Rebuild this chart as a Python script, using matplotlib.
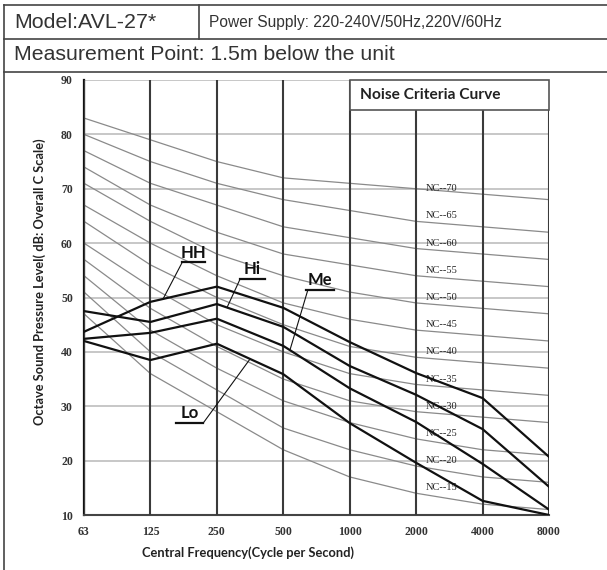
import numpy as np
import matplotlib.pyplot as plt
from matplotlib.lines import Line2D
from matplotlib.patches import Rectangle

# octave band centre frequencies
freqs = ["63", "125", "250", "500", "1000", "2000", "4000", "8000"]
y_ticks = [10, 20, 30, 40, 50, 60, 70, 80, 90]

# noise criteria reference curves
nc15 = [47, 36, 29, 22, 17, 14, 12, 11]
nc20 = [51, 40, 33, 26, 22, 19, 17, 16]
nc25 = [54, 44, 37, 31, 27, 24, 22, 21]
nc30 = [57, 48, 41, 35, 31, 29, 28, 27]
nc35 = [60, 52, 45, 40, 36, 34, 33, 32]
nc40 = [64, 56, 50, 45, 41, 39, 38, 37]
nc45 = [67, 60, 54, 49, 46, 44, 43, 42]
nc50 = [71, 64, 58, 54, 51, 49, 48, 47]
nc55 = [74, 67, 62, 58, 56, 54, 53, 52]
nc60 = [77, 71, 67, 63, 61, 59, 58, 57]
nc65 = [80, 75, 71, 68, 66, 64, 63, 62]
nc70 = [83, 79, 75, 72, 71, 70, 69, 68]
nc_names = [15, 20, 25, 30, 35, 40, 45, 50, 55, 60, 65, 70]

# measured fan speeds
hh = [43.7, 49.2, 52.0, 48.1, 41.8, 36.1, 31.5, 20.7]
hi = [47.5, 45.5, 48.8, 44.6, 37.4, 32.1, 25.8, 15.2]
me = [42.4, 43.5, 46.1, 41.1, 33.3, 27.1, 19.4, 11.0]
lo = [42.0, 38.5, 41.5, 35.9, 26.9, 19.6, 12.6, 10.0]

COND = ["Lato", "DejaVu Sans"]

fig = plt.figure(figsize=(6.07, 5.70), dpi=100)
ax = fig.add_axes([84 / 607, 1 - 515 / 570, 465 / 607, 435 / 570])

xs = np.arange(len(freqs))
ax.set_xlim(0, len(freqs) - 1)
ax.set_ylim(10, 90)

for v in y_ticks:
    ax.axhline(v, color="#bdbdbd", lw=1.2, zorder=1)

nc_curves = [nc15, nc20, nc25, nc30, nc35, nc40, nc45, nc50, nc55, nc60, nc65, nc70]
for name, vals in zip(nc_names, nc_curves):
    ax.plot(xs, vals, color="#8a8a8a", lw=0.9, zorder=2)
    ax.text(5.38, name, f"NC--{name}", fontsize=7.5, family="Liberation Serif",
            ha="center", va="center", color="#222222", zorder=3)

for x in xs:
    ax.axvline(x, color="#3a3a3a", lw=1.5, zorder=4)

for vals in (hh, hi, me, lo):
    ax.plot(xs, vals, color="#111111", lw=1.6, zorder=5)

# curve labels with pointer lines
labels = [
    ("HH", hh, 1.48, 1.82, 56.5, 1.48, 1.19),
    ("Hi", hi, 2.35, 2.72, 53.4, 2.35, 2.153),
    ("Me", me, 3.34, 3.76, 51.4, 3.37, 3.10),
    ("Lo", lo, 1.385, 1.79, 27.0, 1.80, 2.50),
]
for txt, vals, x0, x1, yl, xp, xe in labels:
    ax.text((x0 + x1) / 2, yl + 0.3, txt, fontsize=12, fontweight="bold", family=COND,
            ha="center", va="bottom", color="#111111", zorder=6)
    ax.plot([x0, x1], [yl, yl], color="#111111", lw=1.6, zorder=6)
    ax.plot([xp, xe], [yl, np.interp(xe, xs, vals)], color="#111111", lw=0.8, zorder=6)

# noise criteria title box
ax.add_patch(Rectangle((4, 84.5), 3, 5.5, facecolor="white", edgecolor="#555555",
                       lw=1.2, zorder=7, clip_on=False))
ax.text(4.15, 87.25, "Noise Criteria Curve", fontsize=11.2, fontweight="bold", family=COND,
        ha="left", va="center", color="#222222", zorder=8)

ax.set_xticks(xs)
ax.set_xticklabels(freqs)
ax.set_yticks(y_ticks)
ax.tick_params(length=0, labelsize=8.5, labelcolor="#333333", pad=8)
for lab in ax.get_xticklabels() + ax.get_yticklabels():
    lab.set_family("Liberation Serif")
    lab.set_fontweight("bold")

for s in ("top", "right"):
    ax.spines[s].set_visible(False)
ax.spines["left"].set_color("#111111")
ax.spines["left"].set_linewidth(1.6)
ax.spines["bottom"].set_color("#444444")
ax.spines["bottom"].set_linewidth(1.5)

ax.set_xlabel("Central Frequency(Cycle per Second)", fontsize=9.3, fontweight="bold",
              family=COND, color="#222222")
ax.xaxis.set_label_coords(0.352, -0.072)
ax.set_ylabel("Octave Sound Pressure Level( dB: Overall C Scale)", fontsize=9.3,
              fontweight="bold", family=COND, color="#222222")
ax.yaxis.set_label_coords(-0.082, 0.537)

# header table
def hline(y, x0=4, x1=607):
    fig.add_artist(Line2D([x0 / 607, x1 / 607], [1 - y / 570, 1 - y / 570],
                          color="#444444", lw=1.2))

def vline(x, y0, y1):
    fig.add_artist(Line2D([x / 607, x / 607], [1 - y0 / 570, 1 - y1 / 570],
                          color="#444444", lw=1.2))

hline(5)
hline(39)
hline(72)
vline(4, 5, 570)
vline(199, 5, 39)

fig.text(14 / 607, 1 - 22 / 570, "Model:AVL-27*", fontsize=15.4, family="Liberation Sans",
         ha="left", va="center", color="#333333")
fig.text(209 / 607, 1 - 22 / 570, "Power Supply: 220-240V/50Hz,220V/60Hz", fontsize=11.2,
         family="Liberation Sans", ha="left", va="center", color="#333333")
fig.text(14 / 607, 1 - 55 / 570, "Measurement Point: 1.5m below the unit", fontsize=15.3,
         family="Liberation Sans", ha="left", va="center", color="#333333")

fig.savefig("out.png", dpi=100)
